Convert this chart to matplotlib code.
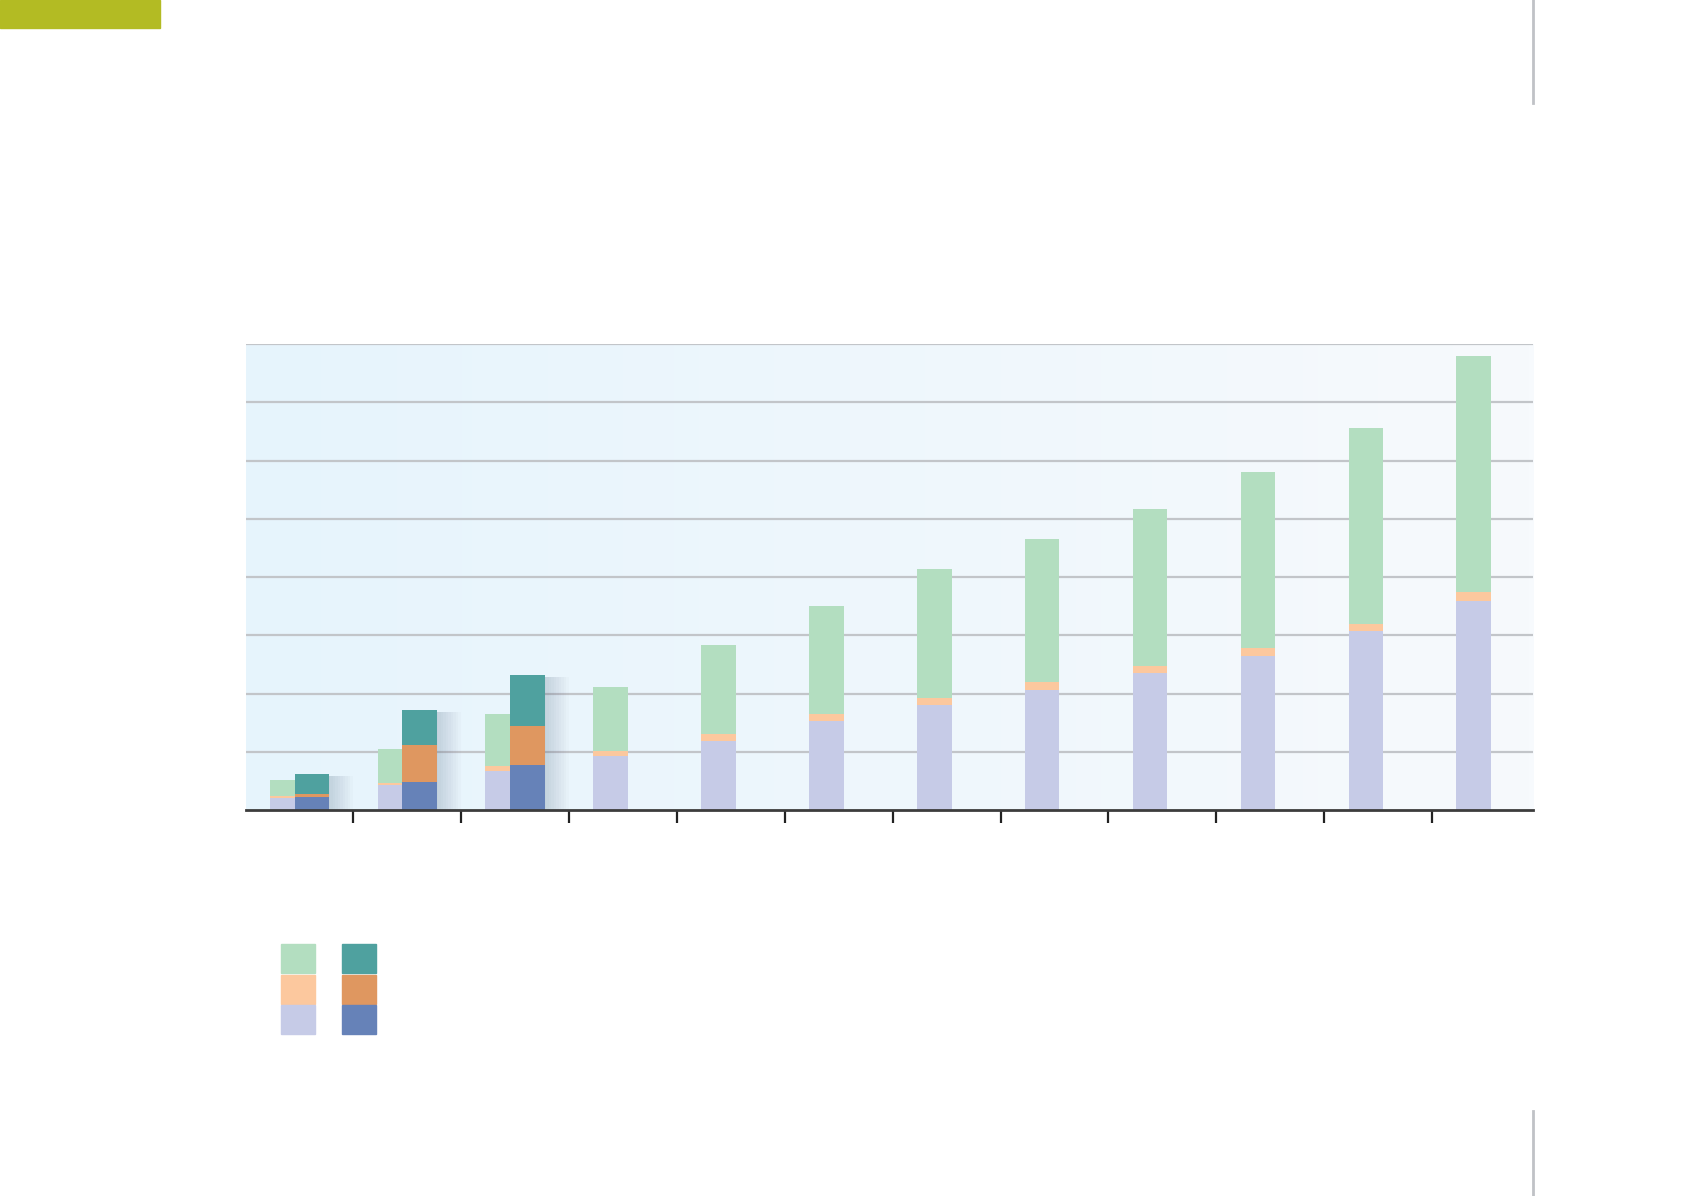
import numpy as np
import matplotlib
matplotlib.use('Agg')
import matplotlib.pyplot as plt
from matplotlib.patches import Rectangle

# values, one grid step = 1 unit
groups = np.arange(12)
light_base = [0.21, 0.43, 0.67, 0.93, 1.19, 1.52, 1.80, 2.06, 2.35, 2.65, 3.07, 3.59]
light_mid = [0.03, 0.04, 0.09, 0.09, 0.12, 0.13, 0.13, 0.14, 0.13, 0.13, 0.13, 0.15]
light_top = [0.27, 0.57, 0.89, 1.09, 1.52, 1.85, 2.20, 2.45, 2.69, 3.03, 3.36, 4.06]
dark_groups = [0, 1, 2]
dark_base = [0.22, 0.48, 0.78]
dark_mid = [0.06, 0.63, 0.67]
dark_top = [0.34, 0.61, 0.87]

# colours
c_green, c_peach, c_lav = '#b3dec0', '#fcc89e', '#c6cbe7'
c_teal, c_orange, c_blue = '#4fa19f', '#df9760', '#6682b8'

fig = plt.figure(figsize=(16.92, 11.96), dpi=100)
ax = fig.add_axes([246/1692, 386/1196, 1287/1692, 466/1196])

# soft blue gradient behind the bars
grad = np.linspace(0, 1, 256).reshape(1, -1)
bg = matplotlib.colors.LinearSegmentedColormap.from_list('bg', ['#e6f4fc', '#f7fafd'])
ax.imshow(grad, extent=[-0.495, 11.435, 0, 8], aspect='auto', cmap=bg, zorder=0)

ax.set_xlim(-0.495, 11.435)
ax.set_ylim(0, 8)

for y in range(1, 9):
    ax.axhline(y, color='#c2c5c9', lw=1.6, zorder=1)

bar_w = 0.32
off = 0.115
lx = groups - off
lb = np.array(light_base)
lm = np.array(light_mid)
lt = np.array(light_top)
ax.bar(lx, lb, bar_w, color=c_lav, lw=0, zorder=3)
ax.bar(lx, lm, bar_w, bottom=lb, color=c_peach, lw=0, zorder=3)
ax.bar(lx, lt, bar_w, bottom=lb + lm, color=c_green, lw=0, zorder=3)

dx = np.array(dark_groups) + off
db = np.array(dark_base)
dm = np.array(dark_mid)
dt = np.array(dark_top)
# soft shadow around the dark bars
for k in np.linspace(0.01, 0.2, 10):
    ax.bar(dx + k * 0.6, db + dm + dt - 0.03, bar_w + k, color='#4a6278', alpha=0.025, zorder=2, lw=0)
ax.bar(dx, db, bar_w, color=c_blue, lw=0, zorder=4)
ax.bar(dx, dm, bar_w, bottom=db, color=c_orange, lw=0, zorder=4)
ax.bar(dx, dt, bar_w, bottom=db + dm, color=c_teal, lw=0, zorder=4)

for s in ['top', 'right', 'left']:
    ax.spines[s].set_visible(False)
ax.spines['bottom'].set_color('#3c3c3c')
ax.spines['bottom'].set_linewidth(2)
ax.spines['bottom'].set_zorder(5)
ax.set_yticks([])
ax.set_xticks(groups[:-1] + 0.5)
ax.set_xticklabels([])
ax.tick_params(axis='x', direction='out', length=9, width=1.6, color='#222222')

# legend swatches
cols = [281, 342]
rows = [944, 975, 1005]
sw = [[c_green, c_peach, c_lav], [c_teal, c_orange, c_blue]]
for ci, x0 in enumerate(cols):
    for ri, y0 in enumerate(rows):
        fig.patches.append(Rectangle((x0/1692, 1 - (y0 + 28.5)/1196), 34/1692, 28.5/1196,
                                     transform=fig.transFigure, color=sw[ci][ri]))

# page decorations
fig.patches.append(Rectangle((0, 1 - 28/1196), 160/1692, 28/1196, transform=fig.transFigure, color='#b3bb23'))
fig.add_artist(plt.Line2D([1533/1692, 1533/1692], [1 - 103/1196, 1], color='#c0c2c6', lw=2))
fig.add_artist(plt.Line2D([1533/1692, 1533/1692], [0, 1 - 1111/1196], color='#c0c2c6', lw=2))

fig.savefig('out.png', dpi=100)
